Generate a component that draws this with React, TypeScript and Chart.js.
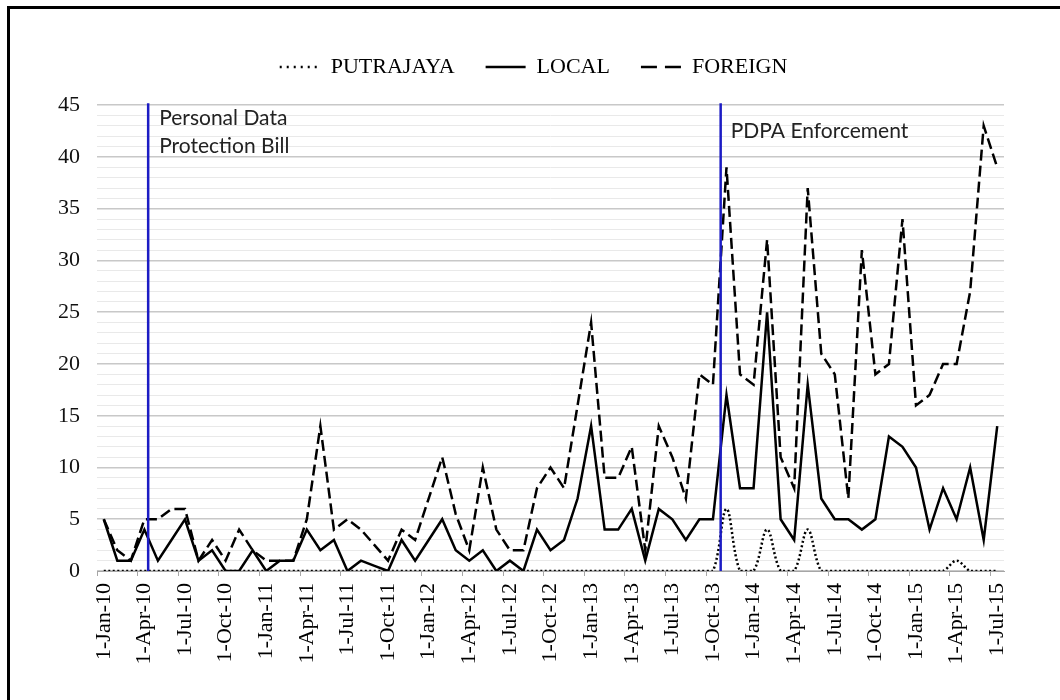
import React, { useEffect, useRef } from 'react';
import { Chart, registerables } from 'chart.js';

Chart.register(...registerables);

const months = [
  '1-Jan-10', '1-Feb-10', '1-Mar-10', '1-Apr-10', '1-May-10', '1-Jun-10', '1-Jul-10', '1-Aug-10', '1-Sep-10', '1-Oct-10', '1-Nov-10', '1-Dec-10',
  '1-Jan-11', '1-Feb-11', '1-Mar-11', '1-Apr-11', '1-May-11', '1-Jun-11', '1-Jul-11', '1-Aug-11', '1-Sep-11', '1-Oct-11', '1-Nov-11', '1-Dec-11',
  '1-Jan-12', '1-Feb-12', '1-Mar-12', '1-Apr-12', '1-May-12', '1-Jun-12', '1-Jul-12', '1-Aug-12', '1-Sep-12', '1-Oct-12', '1-Nov-12', '1-Dec-12',
  '1-Jan-13', '1-Feb-13', '1-Mar-13', '1-Apr-13', '1-May-13', '1-Jun-13', '1-Jul-13', '1-Aug-13', '1-Sep-13', '1-Oct-13', '1-Nov-13', '1-Dec-13',
  '1-Jan-14', '1-Feb-14', '1-Mar-14', '1-Apr-14', '1-May-14', '1-Jun-14', '1-Jul-14', '1-Aug-14', '1-Sep-14', '1-Oct-14', '1-Nov-14', '1-Dec-14',
  '1-Jan-15', '1-Feb-15', '1-Mar-15', '1-Apr-15', '1-May-15', '1-Jun-15', '1-Jul-15',
];

const putrajaya = [
  0, 0, 0, 0, 0, 0, 0, 0, 0, 0, 0, 0,
  0, 0, 0, 0, 0, 0, 0, 0, 0, 0, 0, 0,
  0, 0, 0, 0, 0, 0, 0, 0, 0, 0, 0, 0,
  0, 0, 0, 0, 0, 0, 0, 0, 0, 0, 6, 0,
  0, 4, 0, 0, 4, 0, 0, 0, 0, 0, 0, 0,
  0, 0, 0, 1, 0, 0, 0,
];

const local = [
  5, 1, 1, 4, 1, 3, 5, 1, 2, 0, 0, 2,
  0, 1, 1, 4, 2, 3, 0, 1, 0.5, 0, 3, 1,
  3, 5, 2, 1, 2, 0, 1, 0, 4, 2, 3, 7,
  14, 4, 4, 6, 1, 6, 5, 3, 5, 5, 17, 8,
  8, 25, 5, 3, 18, 7, 5, 5, 4, 5, 13, 12,
  10, 4, 8, 5, 10, 3, 14,
];

const foreign = [
  5, 2, 1, 5, 5, 6, 6, 1, 3, 1, 4, 2,
  1, 1, 1, 5, 14, 4, 5, 4, 2.5, 1, 4, 3,
  7, 11, 5.5, 2, 10, 4, 2, 2, 8, 10, 8, 16,
  24, 9, 9, 12, 2, 14, 11, 7, 19, 18, 39, 19,
  18, 32, 11, 8, 37, 21, 19, 7, 31, 19, 20, 34,
  16, 17, 20, 20, 27, 43, 39,
];

const seriesNames = ['PUTRAJAYA', 'LOCAL', 'FOREIGN'];

// event markers, positioned in month-index units on the category axis
const eventPositions = [3.28, 45.57];
const eventTexts = [['Personal Data', 'Protection Bill'], ['PDPA Enforcement']];

const Y_MIN = 0;
const Y_MAX = 45;
const Y_STEP = 1;
const Y_LABEL_EVERY = 5;
const X_LABEL_EVERY = 3;

const serif = "'Liberation Serif', 'Times New Roman', serif";
const eventLabelStyle = [
  { dx: 11, dy: 20 },
  { dx: 10, dy: 33 },
];
const legendDashes = [[2, 5], [], [16, 8]];

const eventPlugin = {
  id: 'eventMarkers',
  afterDatasetsDraw(chart: any) {
    const { ctx, chartArea, scales } = chart;
    const xs = scales.x;
    ctx.save();
    eventPositions.forEach((pos, k) => {
      const px = xs.getPixelForValue(pos);
      ctx.setLineDash([]);
      ctx.strokeStyle = '#1c1cc4';
      ctx.lineWidth = 2.5;
      ctx.beginPath();
      ctx.moveTo(px, chartArea.top - 2);
      ctx.lineTo(px, chartArea.bottom);
      ctx.stroke();
      ctx.fillStyle = '#222';
      ctx.font = "21px Lato, 'Noto Sans', sans-serif";
      ctx.textAlign = 'left';
      ctx.textBaseline = 'alphabetic';
      const st = eventLabelStyle[k];
      eventTexts[k].forEach((line, j) => {
        ctx.fillText(line, px + st.dx, chartArea.top + st.dy + j * 28);
      });
    });
    ctx.restore();
  },
};

export default function App() {
  const ref = useRef<HTMLCanvasElement>(null);

  useEffect(() => {
    const canvas = ref.current;
    if (!canvas) return;
    const chart = new Chart(canvas, {
      type: 'line',
      data: {
        labels: months,
        datasets: [
          {
            label: seriesNames[0],
            data: putrajaya,
            borderColor: '#000',
            backgroundColor: '#000',
            borderWidth: 2.5,
            borderDash: [2, 2.5],
            tension: 0.35,
            pointRadius: 0,
            fill: false,
          },
          {
            label: seriesNames[1],
            data: local,
            borderColor: '#000',
            backgroundColor: '#000',
            borderWidth: 2.5,
            tension: 0,
            pointRadius: 0,
            fill: false,
          },
          {
            label: seriesNames[2],
            data: foreign,
            borderColor: '#000',
            backgroundColor: '#000',
            borderWidth: 2.5,
            borderDash: [11, 5],
            tension: 0,
            pointRadius: 0,
            fill: false,
          },
        ],
      },
      options: {
        responsive: false,
        animation: false,
        devicePixelRatio: 1,
        layout: { padding: { top: 25, left: 36, right: 29, bottom: 0 } },
        plugins: {
          tooltip: { enabled: false },
          legend: {
            display: true,
            position: 'top',
            weight: 3000,
            labels: {
              usePointStyle: true,
              pointStyle: 'line',
              pointStyleWidth: 40,
              padding: 31,
              color: '#000',
              font: { family: serif, size: 22 },
              generateLabels: (c: any) => {
                const items = (Chart as any).defaults.plugins.legend.labels.generateLabels(c);
                return items.map((it: any, i: number) => ({
                  ...it,
                  lineDash: legendDashes[i],
                  lineWidth: 2.5,
                  pointStyle: 'line',
                }));
              },
            },
          },
          title: {
            display: true,
            text: ' ',
            position: 'top',
            weight: 2000,
            font: { size: 1 },
            padding: { top: 16, bottom: 0 },
          },
        },
        scales: {
          x: {
            type: 'category',
            offset: true,
            grid: {
              display: true,
              offset: true,
              drawOnChartArea: false,
              drawTicks: true,
              tickLength: 5,
              color: (ctx: any) => (ctx.index % X_LABEL_EVERY === 0 ? '#a6a6a6' : 'rgba(0,0,0,0)'),
              lineWidth: 1,
            },
            border: { display: true, color: '#a6a6a6', width: 1 },
            ticks: {
              autoSkip: false,
              minRotation: 90,
              maxRotation: 90,
              padding: 7,
              color: '#000',
              font: { family: serif, size: 22 },
              callback: (_v: any, index: number) => (index % X_LABEL_EVERY === 0 ? months[index] : ''),
            },
            afterFit: (s: any) => {
              s.height = 129;
            },
          },
          y: {
            min: Y_MIN,
            max: Y_MAX,
            border: { display: false },
            grid: {
              drawTicks: false,
              color: (ctx: any) => (ctx.tick && ctx.tick.value % Y_LABEL_EVERY === 0 ? '#c8c8c8' : '#e9e9e9'),
              lineWidth: (ctx: any) => (ctx.tick && ctx.tick.value % Y_LABEL_EVERY === 0 ? 1.5 : 1),
            },
            ticks: {
              stepSize: Y_STEP,
              maxTicksLimit: 100,
              autoSkip: false,
              padding: 17,
              color: '#111',
              font: { family: serif, size: 22 },
              callback: (v: any) => (Number(v) % Y_LABEL_EVERY === 0 ? String(v) : ''),
            },
            afterFit: (s: any) => {
              s.width = 61;
            },
          },
          // empty right-hand spacer axis so the legend centres like the original
          yRight: {
            position: 'right',
            display: true,
            grid: { display: false, drawTicks: false },
            border: { display: false },
            ticks: { display: false },
            afterFit: (s: any) => {
              s.width = 27;
            },
          },
        },
      },
      plugins: [eventPlugin],
    } as any);
    return () => chart.destroy();
  }, []);

  return (
    <div
      style={{
        position: 'fixed',
        left: 0,
        top: 0,
        width: 1060,
        height: 700,
        overflow: 'hidden',
        background: '#fff',
      }}
    >
      <canvas
        ref={ref}
        width={1060}
        height={700}
        style={{ position: 'absolute', left: 0, top: 0, width: 1060, height: 700 }}
      />
      <div
        style={{
          position: 'absolute',
          left: 7,
          top: 6,
          right: -20,
          bottom: -20,
          borderLeft: '3px solid #000',
          borderTop: '3px solid #000',
          pointerEvents: 'none',
        }}
      />
    </div>
  );
}
